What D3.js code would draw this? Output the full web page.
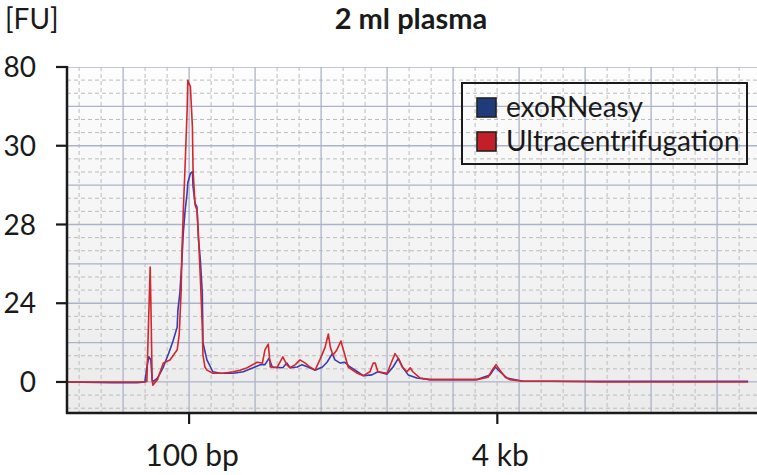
<!DOCTYPE html>
<html>
<head>
<meta charset="utf-8">
<script src="https://cdn.jsdelivr.net/npm/d3@7"></script>
<style>
html,body{margin:0;padding:0;background:#fff;}
svg{display:block;}
</style>
</head>
<body>
<svg id="chart" width="757" height="475"></svg>
<script>
// ---- data ----
const title = "2 ml plasma";
const yUnit = "[FU]";
const seriesNames = ["exoRNeasy", "Ultracentrifugation"];
const seriesColors = ["#3a3ab2", "#d3272d"];
const swatchColors = ["#1e3b7a", "#c21f29"];
// y tick positions (FU) and the labels printed at them
const yTickValues = [0, 10, 20, 30, 40];
const yTickLabels = ["0", "24", "28", "30", "80"];
// x ticks (migration time, s) and labels
const xTickValues = [30, 76.7];
const xTickLabels = ["100 bp", "4 kb"];

// [time (s), fluorescence (FU)]
const exoRNeasy = [
  [11.5,0],[18.3,-0.1],[22.1,-0.1],[23.3,0],[23.6,1.9],[23.9,3.2],[24.2,2.8],[24.4,0.3],[24.5,0],
  [25.2,0.5],[25.6,1.1],[26.1,1.9],[26.7,3.2],[27.1,4.1],[27.6,5.3],[28.2,7.0],[28.3,9.1],[28.6,11.3],
  [28.9,15.2],[29.1,18.7],[29.4,21.8],[29.7,24.0],[29.8,25.3],[30.2,26.5],[30.5,26.7],[30.6,24.8],
  [30.9,22.7],[31.2,22.2],[31.4,18.4],[31.7,15.5],[32.0,11.3],[32.1,5.0],[32.7,2.8],[33.6,1.3],
  [34.7,1.1],[36.7,1.1],[38.2,1.3],[39.7,1.8],[40.8,2.2],[41.5,2.2],[42.1,3.0],[42.6,1.9],[44.2,1.8],
  [44.8,2.4],[45.3,1.8],[46.4,1.9],[47.1,2.2],[48.0,1.9],[49.1,1.5],[50.2,1.9],[50.9,2.5],[51.7,3.6],
  [52.1,2.8],[52.9,2.4],[53.6,2.5],[54.4,1.9],[55.5,1.3],[56.4,0.8],[57.7,0.9],[58.6,1.3],[60.0,1.0],
  [60.9,1.9],[61.7,3.0],[62.4,1.8],[63.2,0.9],[64.5,0.5],[66.5,0.3],[73.6,0.3],[75.6,0.9],[76.4,1.9],
  [77.1,1.3],[78.2,0.5],[80.6,0.1],[92.3,0.1],[107.4,0.1],[114.7,0.1]
];
const ultracentrifugation = [
  [11.5,0],[23.3,0],[23.6,0.1],[23.8,6.0],[24.1,14.6],[24.2,10.4],[24.4,0.3],[24.5,-0.4],[25.2,0.3],
  [26.1,2.4],[27.1,2.8],[28.2,4.1],[28.5,6.0],[28.8,11.7],[28.9,16.1],[29.1,21.2],[29.4,27.6],
  [29.7,34.5],[29.8,38.3],[30.2,37.5],[30.5,32.4],[30.6,26.9],[30.9,22.5],[31.2,21.8],[31.4,18.9],
  [31.7,13.3],[32.0,7.0],[32.1,3.4],[32.4,1.9],[32.7,1.5],[33.6,1.1],[35.2,1.1],[36.7,1.3],[37.7,1.5],
  [38.8,1.8],[40.3,2.5],[41.1,2.4],[41.5,4.1],[42.0,4.8],[42.3,1.9],[43.3,1.8],[44.2,3.2],[44.8,2.2],
  [45.3,1.8],[46.1,2.2],[46.8,2.8],[47.6,2.4],[48.3,1.9],[49.1,1.5],[49.8,2.8],[50.6,4.4],[51.1,6.1],
  [51.4,4.4],[51.8,3.4],[52.4,4.1],[53.0,5.2],[53.5,3.7],[54.1,1.9],[55.5,1.1],[56.4,0.8],[57.4,1.3],
  [57.9,2.4],[58.2,2.4],[58.6,1.3],[60.0,1.1],[60.8,2.8],[61.2,3.6],[61.7,3.0],[62.3,1.9],[63.0,1.3],
  [63.5,1.8],[63.9,1.3],[65.0,0.5],[66.5,0.3],[69.5,0.3],[73.6,0.3],[75.3,0.6],[75.9,1.5],[76.5,2.2],
  [77.1,1.5],[77.9,0.6],[78.6,0.3],[80.6,0.1],[84.7,0.1],[92.3,0],[107.4,0],[114.7,0]
];

// ---- layout ----
const FONT = "Lato, 'Open Sans', sans-serif";
const W = 757, H = 475;
const m = {left: 67, top: 67, right: 760, bottom: 413};
const svg = d3.select("#chart");

const x = d3.scaleLinear().domain([11.5, 116.5]).range([m.left, m.right]);
const y = d3.scaleLinear().domain([-3.94, 40]).range([m.bottom, m.top]);

const defs = svg.append("defs");
const grad = defs.append("linearGradient").attr("id","bg").attr("x1",0).attr("y1",0).attr("x2",0).attr("y2",1);
grad.append("stop").attr("offset","0%").attr("stop-color","#fdfdfd");
grad.append("stop").attr("offset","100%").attr("stop-color","#ebebeb");
defs.append("clipPath").attr("id","clip").append("rect")
  .attr("x", m.left).attr("y", m.top).attr("width", m.right - m.left).attr("height", m.bottom - m.top);

svg.append("rect").attr("x", m.left).attr("y", m.top)
  .attr("width", m.right - m.left).attr("height", m.bottom - m.top).attr("fill","url(#bg)");

const g = svg.append("g").attr("clip-path","url(#clip)");

// grid
const xMinor = d3.range(10, 120, 10/3).filter(v => Math.abs(v/10 - Math.round(v/10)) > 0.01);
const xMajor = d3.range(20, 120, 10);
const yMinor = d3.range(-5, 41, 5/3).filter(v => Math.abs(v/5 - Math.round(v/5)) > 0.01);
const yMajor = d3.range(0, 41, 5);

g.selectAll(".xminor").data(xMinor).join("line")
  .attr("x1", d => x(d)).attr("x2", d => x(d)).attr("y1", m.top).attr("y2", m.bottom)
  .attr("stroke","#bcbcbc").attr("stroke-width",1).attr("stroke-dasharray","4,3");
g.selectAll(".yminor").data(yMinor).join("line")
  .attr("y1", d => y(d)).attr("y2", d => y(d)).attr("x1", m.left).attr("x2", m.right)
  .attr("stroke","#bcbcbc").attr("stroke-width",1).attr("stroke-dasharray","4,3");
g.selectAll(".xmajor").data(xMajor).join("line")
  .attr("x1", d => x(d)).attr("x2", d => x(d)).attr("y1", m.top).attr("y2", m.bottom)
  .attr("stroke","#abb3c8").attr("stroke-width",1.3);
g.selectAll(".ymajor").data(yMajor).join("line")
  .attr("y1", d => y(d)).attr("y2", d => y(d)).attr("x1", m.left).attr("x2", m.right)
  .attr("stroke","#abb3c8").attr("stroke-width",1.3);

// traces
const line = d3.line().x(d => x(d[0])).y(d => y(d[1]));
[exoRNeasy, ultracentrifugation].forEach((s, i) => {
  g.append("path").datum(s).attr("d", line).attr("fill","none")
    .attr("stroke", seriesColors[i]).attr("stroke-width",1.6).attr("stroke-linejoin","round");
});

// legend
const lg = svg.append("g");
lg.append("rect").attr("x",462).attr("y",83).attr("width",285).attr("height",81)
  .attr("fill","none").attr("stroke","#1a1a1a").attr("stroke-width",2);
seriesNames.forEach((n, i) => {
  lg.append("rect").attr("x",477).attr("y",98 + i*34).attr("width",19).attr("height",19)
    .attr("fill", swatchColors[i]).attr("stroke","#222").attr("stroke-width",1.6);
  lg.append("text").attr("x",506).attr("y",117 + i*34).text(n)
    .attr("font-family",FONT).attr("font-size",28).attr("fill","#1a1a1a");
});

// axes lines
svg.append("line").attr("x1", m.left).attr("x2", m.left).attr("y1", m.top - 1).attr("y2", m.bottom + 1)
  .attr("stroke","#1a1a1a").attr("stroke-width",2.5);
svg.append("line").attr("x1", m.left - 1).attr("x2", W).attr("y1", m.bottom).attr("y2", m.bottom)
  .attr("stroke","#1a1a1a").attr("stroke-width",2.5);

// y ticks
yTickValues.forEach((v, i) => {
  svg.append("line").attr("x1", 56).attr("x2", m.left).attr("y1", y(v)).attr("y2", y(v))
    .attr("stroke","#1a1a1a").attr("stroke-width",2.2);
  svg.append("text").attr("x", 36).attr("y", y(v)).attr("dy","0.36em").attr("text-anchor","end")
    .attr("font-family",FONT).attr("font-size",28).attr("fill","#1a1a1a").text(yTickLabels[i]);
});
// x ticks
xTickValues.forEach((v, i) => {
  svg.append("line").attr("x1", x(v)).attr("x2", x(v)).attr("y1", m.bottom).attr("y2", 424)
    .attr("stroke","#1a1a1a").attr("stroke-width",2.2);
  svg.append("text").attr("x", x(v) + 3).attr("y", 466).attr("text-anchor","middle")
    .attr("font-family",FONT).attr("font-size",30).attr("fill","#1a1a1a").text(xTickLabels[i]);
});

// titles
svg.append("text").attr("x", 5).attr("y", 29).attr("font-family",FONT).attr("font-size",28)
  .attr("fill","#1a1a1a").text(yUnit);
svg.append("text").attr("x", 411).attr("y", 29).attr("text-anchor","middle")
  .attr("font-family",FONT).attr("font-weight","bold").attr("font-size",29)
  .attr("fill","#1a1a1a").text(title);
</script>
</body>
</html>
